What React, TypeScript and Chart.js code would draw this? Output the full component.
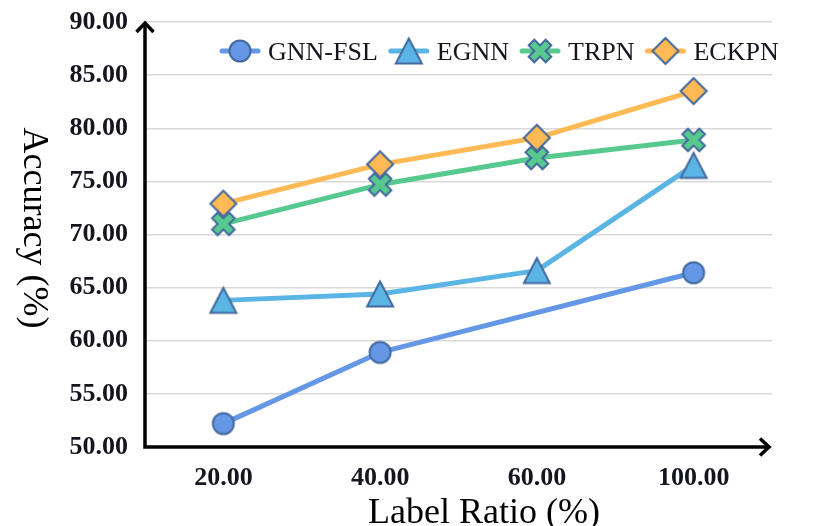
import React, { useEffect, useRef } from "react";
import { Chart, registerables } from "chart.js";

Chart.register(...registerables);

// ---- data ----
const categories = ["20.00", "40.00", "60.00", "100.00"];
const seriesNames = ["GNN-FSL", "EGNN", "TRPN", "ECKPN"];
const gnnFsl: (number | null)[] = [52.2, 58.9, null, 66.4];
const egnn: (number | null)[] = [63.8, 64.4, 66.6, 76.5];
const trpn: (number | null)[] = [71.0, 74.7, 77.2, 78.9];
const eckpn: (number | null)[] = [72.9, 76.6, 79.1, 83.5];
const yMin = 50;
const yMax = 90;
const yStep = 5;
const xTitle = "Label Ratio (%)";
const yTitle = "Accuracy (%)";

// ---- styles ----
const lineColors = ["#6497E6", "#5AB5E4", "#57C98E", "#FFB955"];
const markerShapes = ["circle", "triangle", "x", "diamond"];
const markerBorder = "#44699F";
const SERIF = '"Liberation Serif", "Times New Roman", serif';
const textColor = "#15151f";

function makeMarker(shape: string, fill: string, stroke: string): HTMLCanvasElement {
  const S = 34;
  const c = document.createElement("canvas");
  c.width = S;
  c.height = S;
  const g = c.getContext("2d")!;
  g.translate(S / 2, S / 2);
  g.beginPath();
  if (shape === "circle") {
    g.arc(0, 0, 10.5, 0, Math.PI * 2);
  } else if (shape === "triangle") {
    g.moveTo(0, -12.5);
    g.lineTo(13, 12.5);
    g.lineTo(-13, 12.5);
    g.closePath();
  } else if (shape === "diamond") {
    g.moveTo(0, -13);
    g.lineTo(13, 0);
    g.lineTo(0, 13);
    g.lineTo(-13, 0);
    g.closePath();
  } else {
    const a = 4;
    const L = 12;
    const pts = [
      [a, -L], [a, -a], [L, -a], [L, a], [a, a], [a, L],
      [-a, L], [-a, a], [-L, a], [-L, -a], [-a, -a], [-a, -L],
    ];
    const cs = Math.cos(Math.PI / 4);
    const sn = Math.sin(Math.PI / 4);
    pts.forEach(([px, py], i) => {
      const rx = px * cs - py * sn;
      const ry = px * sn + py * cs;
      if (i === 0) g.moveTo(rx, ry);
      else g.lineTo(rx, ry);
    });
    g.closePath();
  }
  g.fillStyle = fill;
  g.fill();
  g.lineWidth = 2;
  g.lineJoin = "miter";
  g.strokeStyle = stroke;
  g.stroke();
  return c;
}

export default function App() {
  const ref = useRef<HTMLCanvasElement | null>(null);

  useEffect(() => {
    if (!ref.current) return;
    const markers = markerShapes.map((s, i) => makeMarker(s, lineColors[i], markerBorder));
    const seriesData = [gnnFsl, egnn, trpn, eckpn];

    const axesPlugin = {
      id: "arrowAxes",
      beforeDatasetsDraw(chart: any) {
        const { ctx, chartArea } = chart;
        const { left, right, top, bottom } = chartArea;
        ctx.save();
        ctx.strokeStyle = "#000";
        ctx.lineWidth = 3.5;
        ctx.lineCap = "butt";
        ctx.lineJoin = "miter";
        ctx.beginPath();
        ctx.moveTo(left, bottom + 1.75);
        ctx.lineTo(left, top + 1);
        ctx.moveTo(left - 1.75, bottom);
        ctx.lineTo(right - 3, bottom);
        ctx.stroke();
        // top arrow
        ctx.beginPath();
        ctx.moveTo(left - 8.5, top + 10);
        ctx.lineTo(left, top + 1);
        ctx.lineTo(left + 8.5, top + 10);
        ctx.stroke();
        // right arrow
        ctx.beginPath();
        ctx.moveTo(right - 12, bottom - 8.5);
        ctx.lineTo(right - 3, bottom);
        ctx.lineTo(right - 12, bottom + 8.5);
        ctx.stroke();
        ctx.restore();
      },
    };

    const textPlugin = {
      id: "customText",
      afterDraw(chart: any) {
        const { ctx, chartArea } = chart;
        ctx.save();
        // legend
        ctx.font = `26px ${SERIF}`;
        ctx.textBaseline = "alphabetic";
        ctx.textAlign = "left";
        let x = chartArea.left + 75;
        const y = 51;
        seriesNames.forEach((name, i) => {
          ctx.beginPath();
          ctx.strokeStyle = lineColors[i];
          ctx.lineWidth = 5;
          ctx.lineCap = "round";
          ctx.moveTo(x + 2, y);
          ctx.lineTo(x + 38, y);
          ctx.stroke();
          const m = markers[i];
          ctx.drawImage(m, x + 20 - m.width / 2, y - m.height / 2);
          ctx.fillStyle = textColor;
          ctx.fillText(name, x + 48, y + 9);
          x += 48 + ctx.measureText(name).width + 11;
        });
        // axis titles
        ctx.fillStyle = "#000";
        ctx.font = `36px ${SERIF}`;
        ctx.textAlign = "center";
        ctx.textBaseline = "alphabetic";
        ctx.fillText(xTitle, 484, 523);
        ctx.translate(33, 228);
        ctx.rotate(Math.PI / 2);
        ctx.textBaseline = "middle";
        ctx.fillText(yTitle, 0, 0);
        ctx.restore();
      },
    };

    const chart = new Chart(ref.current, {
      type: "line",
      data: {
        labels: categories,
        datasets: seriesNames.map((name, i) => ({
          label: name,
          data: seriesData[i],
          borderColor: lineColors[i],
          backgroundColor: lineColors[i],
          borderWidth: 5,
          borderCapStyle: "round",
          borderJoinStyle: "round",
          pointStyle: markers[i],
          pointRadius: 12,
          pointHoverRadius: 12,
          spanGaps: true,
          tension: 0,
          fill: false,
          clip: false,
        })) as any,
      },
      options: {
        animation: false,
        responsive: false,
        layout: { padding: { left: 0, right: 58, top: 22, bottom: 0 } },
        plugins: {
          legend: { display: false },
          tooltip: { enabled: false },
        },
        scales: {
          x: {
            type: "category",
            offset: true,
            grid: { display: false, drawTicks: false },
            border: { display: false },
            ticks: {
              font: { family: SERIF, size: 26, weight: "bold" },
              color: textColor,
              padding: 16,
              maxRotation: 0,
              autoSkip: false,
            },
            afterFit: (s: any) => {
              s.height = 79;
              s.paddingLeft = 0;
              s.paddingRight = 0;
            },
          },
          y: {
            min: yMin,
            max: yMax,
            ticks: {
              stepSize: yStep,
              callback: (v: any) => Number(v).toFixed(2),
              font: { family: SERIF, size: 26, weight: "bold" },
              color: textColor,
              padding: 17,
            },
            grid: { color: "#d9d9d9", lineWidth: 1.5, drawTicks: false },
            border: { display: false },
            afterFit: (s: any) => {
              s.width = 145;
              s.paddingTop = 0;
              s.paddingBottom = 0;
            },
          },
        },
      },
      plugins: [axesPlugin, textPlugin],
    });
    return () => chart.destroy();
  }, []);

  return (
    <div style={{ position: "fixed", left: 0, top: 0, width: 830, height: 526, background: "#fff" }}>
      <canvas ref={ref} width={830} height={526} style={{ display: "block", width: 830, height: 526 }} />
    </div>
  );
}
